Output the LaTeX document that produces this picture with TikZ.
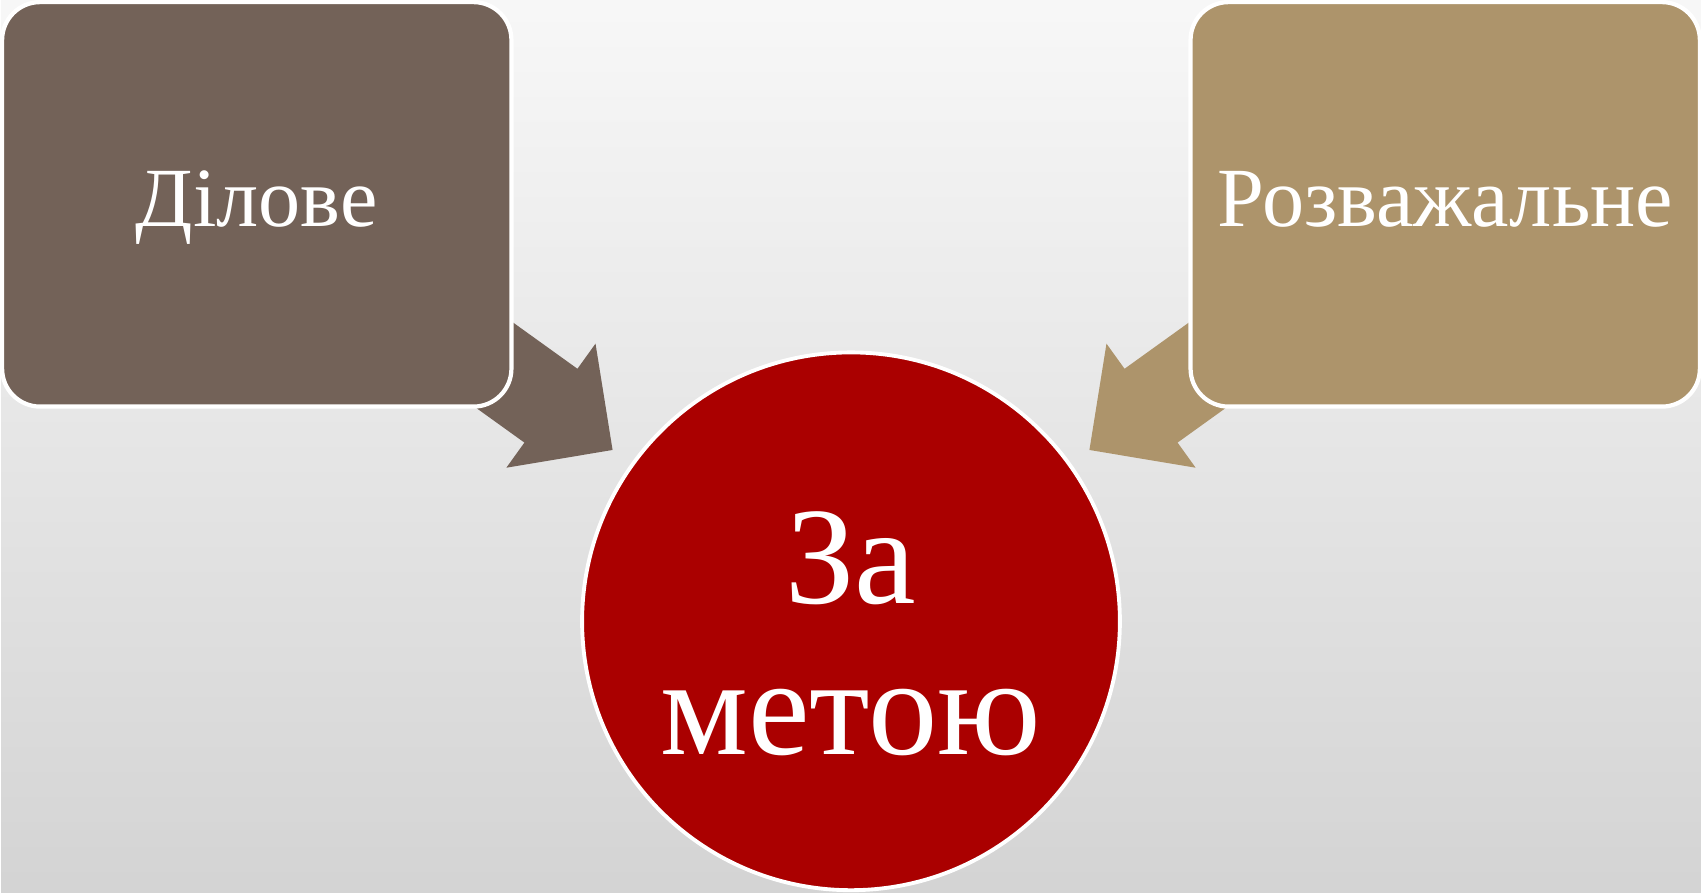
\documentclass[tikz,border=0pt]{standalone}
\usepackage{fontspec}
\setmainfont{Liberation Serif}
\usetikzlibrary{positioning, calc}

\definecolor{bizbrown}{HTML}{736258}
\definecolor{funtan}{HTML}{AD946B}
\definecolor{aimred}{HTML}{AA0000}

\tikzset{
  kindbox/.style={rectangle, rounded corners=0.38cm, draw=white, line width=1.2pt,
    minimum width=5.1cm, minimum height=4.05cm, text=white,
    text height=0.6cm, text depth=0.15cm,
    font=\fontsize{24}{28}\selectfont},
  aimcircle/.style={circle, draw=white, line width=1.1pt, fill=aimred,
    minimum size=5.385cm, inner sep=0pt, text=white, align=center,
    text height=2.8cm, text depth=0.13cm,
    font=\fontsize{39.5}{43}\selectfont}
}

\begin{document}
\begin{tikzpicture}
  \fill[top color=black!3, bottom color=black!17] (0,0) rectangle (17.02,8.93);
  \node[aimcircle] (goal) at (8.51,2.715) {За\\метою};
  % block arrows pointing at the circle
  \foreach \who/\ang/\col in {biz/144.3/bizbrown, fun/35.7/funtan}{
    \coordinate (\who tip) at ($(goal.center)+(\ang:2.94)$);
    \fill[\col, shift={(\who tip)}, rotate=\ang+180]
      (0,0) -- (-0.76,0.765) -- (-0.76,0.455) -- (-2.3,0.455)
      -- (-2.3,-0.455) -- (-0.76,-0.455) -- (-0.76,-0.765) -- cycle;
  }
  \node[kindbox, fill=bizbrown] (biz) at (2.56,6.89) {Ділове};
  \node[kindbox, fill=funtan] (fun) at (14.46,6.89) {Розважальне};
\end{tikzpicture}
\end{document}
